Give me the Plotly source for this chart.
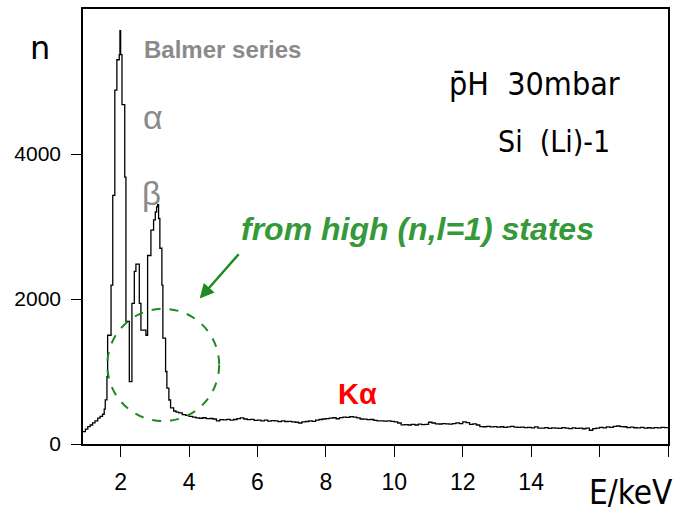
import numpy as np
import plotly.graph_objects as go

# ---- data (counts per bin, left bin edges in keV) ----
peak_edges_keV = [0.90, 0.97, 1.04, 1.11, 1.18, 1.25, 1.33, 1.40, 1.47, 1.52,
                  1.55, 1.60, 1.62, 1.72, 1.77, 1.83, 1.89, 1.96, 1.98, 2.00,
                  2.04, 2.12, 2.155, 2.254, 2.33, 2.40, 2.447, 2.546, 2.593, 2.739,
                  2.788, 2.885, 2.963, 3.013, 3.051, 3.08, 3.109, 3.147, 3.206, 3.235,
                  3.314, 3.352, 3.41, 3.46, 3.55, 3.62]
peak_counts = [170, 205, 240, 262, 292, 318, 358, 382, 410, 480,
               610, 930, 1500, 2190, 3430, 4880, 5300, 5370, 5700, 5370,
               4680, 3680, 1690, 860, 1940, 2380, 2480, 1940, 1570, 1500,
               2600, 2950, 3090, 3200, 3270, 3300, 3110, 2700, 2190, 1460,
               1000, 772, 607, 497, 455, 440]

tail_start_keV = 3.7
tail_bin_keV = 0.1
tail_counts = [430, 405, 395, 380, 372, 360, 355, 362, 350, 352,
               345, 318, 335, 332, 340, 328, 338, 350, 360, 345,
               335, 340, 325, 330, 320, 328, 315, 322, 318, 308,
               320, 310, 312, 305, 300, 290, 305, 310, 318, 312,
               330, 338, 345, 350, 356, 362, 348, 365, 372, 368,
               378, 372, 360, 345, 342, 336, 338, 325, 318, 320,
               316, 318, 312, 305, 290, 265, 268, 262, 270, 262,
               275, 266, 272, 300, 290, 278, 276, 282, 278, 275,
               280, 292, 282, 305, 295, 272, 278, 262, 240, 238,
               242, 236, 240, 232, 238, 230, 235, 242, 232, 228,
               234, 226, 230, 222, 235, 218, 220, 226, 216, 222,
               218, 215, 225, 218, 212, 222, 215, 220, 210, 218,
               190, 212, 220, 228, 222, 235, 230, 242, 248, 240,
               238, 226, 232, 224, 222, 228, 220, 224, 218, 225,
               222, 230, 226]

x_tick_vals = [2, 4, 6, 8, 10, 12, 14, 16, 18]
x_tick_text = ["2", "4", "6", "8", "10", "12", "14", "", ""]
y_tick_vals = [0, 2000, 4000]
y_tick_text = ["0", "2000", "4000"]

# ---- build step histogram ----
tail_edges = [round(tail_start_keV + i * tail_bin_keV, 3) for i in range(len(tail_counts))]
edges = peak_edges_keV + tail_edges
counts = peak_counts + tail_counts
last_edge = tail_edges[-1] + tail_bin_keV
xs = edges + [last_edge]
ys = counts + [counts[-1]]

GREEN_TXT = "#35993a"
GREEN = "#1f8a1f"
GRAY = "#8a8a8a"
STROKE_FONT = "Liberation Sans Narrow, DejaVu Sans Condensed, Liberation Sans, sans-serif"

fig = go.Figure()
fig.add_trace(go.Scatter(x=xs, y=ys, mode="lines", line=dict(color="black", width=1.3, shape="hv"),
                         hoverinfo="skip", showlegend=False))

fig.update_layout(
    width=682, height=514,
    margin=dict(l=83, r=14, t=7, b=70),
    paper_bgcolor="white", plot_bgcolor="white",
    showlegend=False,
    xaxis=dict(range=[0.9, 18.0], showgrid=False, zeroline=False,
               showline=True, mirror=True, linecolor="black", linewidth=1.5,
               ticks="outside", ticklen=11, tickwidth=1.3, tickcolor="black",
               tickvals=x_tick_vals, ticktext=x_tick_text, ticklabelstandoff=6,
               tickfont=dict(family="Liberation Sans, Arial, sans-serif", size=23, color="black")),
    yaxis=dict(range=[0, 6000], showgrid=False, zeroline=False,
               showline=True, mirror=True, linecolor="black", linewidth=1.5,
               ticks="outside", ticklen=10, tickwidth=1.3, tickcolor="black",
               tickvals=y_tick_vals, ticktext=y_tick_text, ticklabelstandoff=6,
               tickfont=dict(family="Liberation Sans, Arial, sans-serif", size=21, color="black")),
)

# dashed circle around the high-n region
fig.add_shape(type="circle", xref="x", yref="y", x0=1.61, x1=4.88, y0=316, y1=1865,
              line=dict(color=GREEN, width=2, dash="dash"))

# arrow
fig.add_annotation(x=4.31, y=2007, ax=5.49, ay=2639, xref="x", yref="y", axref="x", ayref="y",
                   text="", showarrow=True, arrowhead=2, arrowsize=1.2, arrowwidth=2.4,
                   arrowcolor=GREEN)

annots = [
    dict(text="n", xref="paper", yref="paper", x=-0.0735, y=0.91, xanchor="center", yanchor="middle",
         font=dict(family="DejaVu Sans, sans-serif", size=32, color="black")),
    dict(text="E/keV", xref="paper", yref="paper", x=0.937, y=-0.112, xanchor="center", yanchor="middle",
         font=dict(family=STROKE_FONT, size=33, color="black")),
    dict(text="Balmer series", xref="x", yref="y", x=2.62, y=5440, xanchor="left", yanchor="middle",
         font=dict(family="Liberation Sans, Arial, sans-serif", size=24, color=GRAY, weight="bold")),
    dict(text="α", xref="x", yref="y", x=2.94, y=4510, xanchor="center", yanchor="middle",
         font=dict(family="Liberation Sans, Arial, sans-serif", size=34, color=GRAY)),
    dict(text="β", xref="x", yref="y", x=2.91, y=3450, xanchor="center", yanchor="middle",
         font=dict(family="Liberation Sans, Arial, sans-serif", size=33, color=GRAY)),
    dict(text="<b><i>from high (n,l=1) states</i></b>", xref="x", yref="y", x=5.45, y=2965,
         xanchor="left", yanchor="middle",
         font=dict(family="Liberation Sans, Arial, sans-serif", size=32, color=GREEN_TXT)),
    dict(text="p\u0304H  30mbar", xref="x", yref="y", x=11.55, y=4962, xanchor="left", yanchor="middle",
         font=dict(family=STROKE_FONT, size=32, color="black")),
    dict(text="Si  (Li)-1", xref="x", yref="y", x=12.98, y=4179, xanchor="left", yanchor="middle",
         font=dict(family=STROKE_FONT, size=30, color="black")),
    dict(text="<b>Kα</b>", xref="x", yref="y", x=8.91, y=687, xanchor="center", yanchor="middle",
         font=dict(family="Liberation Sans, Arial, sans-serif", size=29, color="#ff0000")),
]
for a in annots:
    fig.add_annotation(showarrow=False, **a)

fig.write_html("out.html", config={"displayModeBar": False},
               post_script="document.body.style.margin='0';document.body.style.padding='0';")
